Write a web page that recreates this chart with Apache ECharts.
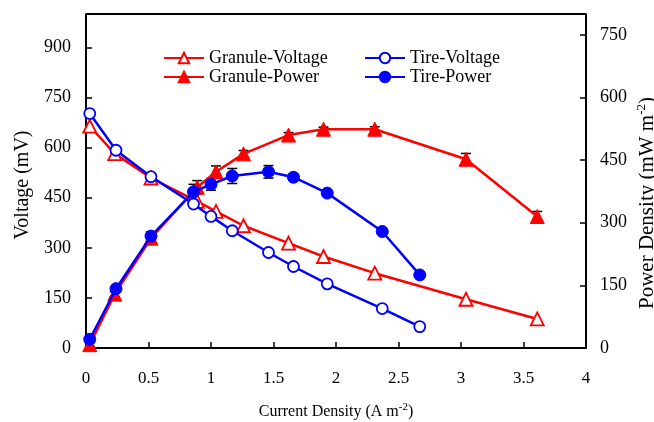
<!DOCTYPE html>
<html>
<head>
<meta charset="utf-8">
<script src="https://cdn.jsdelivr.net/npm/echarts@6/dist/echarts.min.js"></script>
<style>
  html, body { margin: 0; padding: 0; background: #fff; }
  #chart { width: 654px; height: 422px; }
</style>
</head>
<body>
<div id="chart"></div>
<script>
// 电流密度 (A m-2)
var granuleX = [0.03, 0.23, 0.52, 0.89, 1.04, 1.26, 1.62, 1.90, 2.31, 3.04, 3.61];
var tireX = [0.03, 0.24, 0.52, 0.86, 1.00, 1.17, 1.46, 1.66, 1.93, 2.37, 2.67];

// 电压 (mV)
var granuleVoltage = [664, 582, 509, 439, 409, 366, 314, 274, 224, 146, 87];
var tireVoltage = [702, 592, 513, 431, 394, 351, 286, 244, 192, 118, 64];

// 功率密度 (mW m-2) 和误差
var granulePower = [8, 129, 263, 385, 422, 465, 510, 524, 524, 452, 315];
var granulePowerErr = [4, 6, 10, 16, 14, 8, 6, 5, 6, 14, 12];
var tirePower = [21, 142, 268, 374, 392, 412, 422, 409, 371, 279, 175];
var tirePowerErr = [4, 6, 10, 18, 14, 18, 15, 8, 5, 5, 4];

var leftTicks = [0, 150, 300, 450, 600, 750, 900];
var rightTicks = [0, 150, 300, 450, 600, 750];

var font = '"Liberation Serif", "DejaVu Serif", serif';

function pairs(xs, ys) {
  return xs.map(function (x, i) { return [x, ys[i]]; });
}

function errData(xs, ys, es) {
  return xs.map(function (x, i) { return [x, ys[i] - es[i], ys[i] + es[i]]; });
}

//误差棒
function renderErr(params, api) {
  var lo = api.coord([api.value(0), api.value(1)]);
  var hi = api.coord([api.value(0), api.value(2)]);
  var w = 5;
  var st = { stroke: '#000', lineWidth: 1.5 };
  return {
    type: 'group',
    children: [
      { type: 'line', shape: { x1: lo[0], y1: lo[1], x2: hi[0], y2: hi[1] }, style: st },
      { type: 'line', shape: { x1: hi[0] - w, y1: hi[1], x2: hi[0] + w, y2: hi[1] }, style: st },
      { type: 'line', shape: { x1: lo[0] - w, y1: lo[1], x2: lo[0] + w, y2: lo[1] }, style: st }
    ]
  };
}

var myChart = echarts.init(document.getElementById('chart'));

var supRich = { sup: { fontFamily: font, fontSize: 11, verticalAlign: 'top', padding: [0, 0, 9, 0] } };
var supRichBig = { sup: { fontFamily: font, fontSize: 13, verticalAlign: 'top', padding: [0, 0, 11, 0] } };

myChart.setOption({
  backgroundColor: '#fff',
  animation: false,
  textStyle: { fontFamily: font },
  grid: { left: 86, right: 68, top: 14, bottom: 74, outerBoundsMode: 'none', containLabel: false },
  legend: [{
    orient: 'vertical',
    left: 158,
    top: 44,
    itemWidth: 40,
    itemHeight: 13,
    itemGap: 1,
    textStyle: { fontFamily: font, fontSize: 18, color: '#000' },
    data: ['Granule-Voltage', 'Granule-Power']
  }, {
    orient: 'vertical',
    left: 359,
    top: 44,
    itemWidth: 40,
    itemHeight: 13,
    itemGap: 1,
    textStyle: { fontFamily: font, fontSize: 18, color: '#000' },
    data: ['Tire-Voltage', 'Tire-Power']
  }],
  xAxis: {
    type: 'value',
    min: 0,
    max: 4,
    interval: 0.5,
    name: 'Current Density (A m{sup|-2})',
    nameLocation: 'middle',
    nameGap: 54,
    nameTextStyle: { fontFamily: font, fontSize: 16, color: '#000', rich: supRich },
    axisLine: { show: true, onZero: false, lineStyle: { color: '#000', width: 2 } },
    axisTick: { inside: true, length: 6, lineStyle: { color: '#000', width: 1.5 } },
    axisLabel: { margin: 22, fontFamily: font, fontSize: 17, color: '#000' },
    splitLine: { show: false }
  },
  yAxis: [{
    type: 'value',
    min: 0,
    max: 1000,
    interval: 150,
    name: 'Voltage (mV)',
    nameLocation: 'middle',
    nameRotate: 90,
    nameGap: 48,
    nameTextStyle: { fontFamily: font, fontSize: 20, color: '#000', padding: [0, 8, 0, 0] },
    axisLine: { show: true, lineStyle: { color: '#000', width: 2 } },
    axisTick: { inside: true, length: 6, lineStyle: { color: '#000', width: 1.5 } },
    axisLabel: {
      margin: 15, fontFamily: font, fontSize: 18, color: '#000', showMaxLabel: false,
      formatter: function (v) { return leftTicks.indexOf(v) >= 0 ? v : ''; }
    },
    splitLine: { show: false }
  }, {
    type: 'value',
    min: 0,
    max: 800,
    interval: 150,
    position: 'right',
    name: 'Power Density (mW m{sup|-2})',
    nameLocation: 'middle',
    nameRotate: 90,
    nameGap: 49,
    nameMoveOverlap: false,
    nameTextStyle: { fontFamily: font, fontSize: 21, color: '#000', rich: supRichBig, padding: [0, 44, 0, 0] },
    axisLine: { show: true, lineStyle: { color: '#000', width: 2 } },
    axisTick: { inside: true, length: 6, lineStyle: { color: '#000', width: 1.5 } },
    axisLabel: {
      margin: 14, fontFamily: font, fontSize: 18, color: '#000', showMaxLabel: false,
      formatter: function (v) { return rightTicks.indexOf(v) >= 0 ? v : ''; }
    },
    splitLine: { show: false }
  }],
  // 上边框
  graphic: [{
    type: 'line',
    shape: { x1: 86, y1: 14, x2: 586, y2: 14 },
    style: { stroke: '#000', lineWidth: 2 }
  }],
  series: [{
    type: 'custom',
    yAxisIndex: 1,
    z: 1,
    renderItem: renderErr,
    encode: { x: 0, y: [1, 2] },
    data: errData(granuleX, granulePower, granulePowerErr)
  }, {
    type: 'custom',
    yAxisIndex: 1,
    z: 1,
    renderItem: renderErr,
    encode: { x: 0, y: [1, 2] },
    data: errData(tireX, tirePower, tirePowerErr)
  }, {
    name: 'Granule-Voltage',
    type: 'line',
    yAxisIndex: 0,
    z: 3,
    symbol: 'triangle',
    symbolSize: 13,
    color: '#ff0000',
    lineStyle: { color: '#ff0000', width: 2.5 },
    itemStyle: { color: '#fff', borderColor: '#ff0000', borderWidth: 1.8 },
    data: pairs(granuleX, granuleVoltage)
  }, {
    name: 'Granule-Power',
    type: 'line',
    yAxisIndex: 1,
    z: 3,
    symbol: 'triangle',
    symbolSize: 14,
    color: '#ff0000',
    lineStyle: { color: '#ff0000', width: 2.5 },
    itemStyle: { color: '#ff0000', borderColor: '#ff0000', borderWidth: 1 },
    data: pairs(granuleX, granulePower)
  }, {
    name: 'Tire-Voltage',
    type: 'line',
    yAxisIndex: 0,
    z: 4,
    symbol: 'circle',
    symbolSize: 11,
    color: '#0000ff',
    lineStyle: { color: '#0000ff', width: 2.5 },
    itemStyle: { color: '#fff', borderColor: '#0000ff', borderWidth: 1.8 },
    data: pairs(tireX, tireVoltage)
  }, {
    name: 'Tire-Power',
    type: 'line',
    yAxisIndex: 1,
    z: 4,
    symbol: 'circle',
    symbolSize: 12,
    color: '#0000ff',
    lineStyle: { color: '#0000ff', width: 2.5 },
    itemStyle: { color: '#0000ff', borderColor: '#0000ff', borderWidth: 1 },
    data: pairs(tireX, tirePower)
  }]
});

window.onresize = function () {
  myChart.resize();
};
</script>
</body>
</html>
